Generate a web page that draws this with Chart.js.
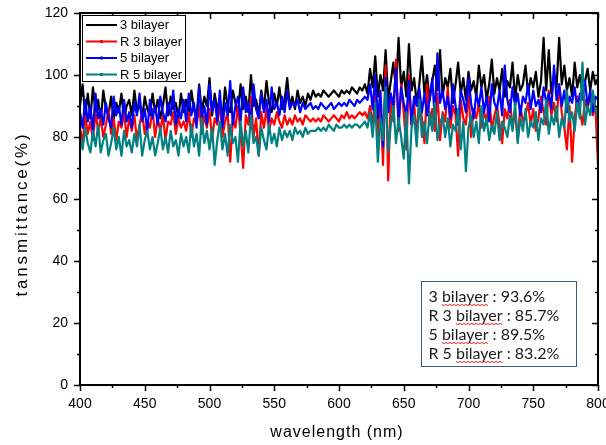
<!DOCTYPE html>
<html>
<head>
<meta charset="utf-8">
<script src="https://cdn.jsdelivr.net/npm/chart.js@4.4.1/dist/chart.umd.min.js"></script>
<style>
  html, body { margin: 0; padding: 0; background: #fff; }
  #wrap { width: 606px; height: 445px; }
</style>
</head>
<body>
<div id="wrap"><canvas id="transChart" width="606" height="445"></canvas></div>
<script>
// wavelength grid (nm)
const WL_START = 400;
const WL_STEP = 2;

// transmittance (%), 400 -> 800 nm
const bilayer3 = [
  90, 97, 87, 94, 86, 96, 88, 92, 85, 95,
  89, 87, 93, 86, 91, 88, 94, 86, 90, 92,
  87, 95, 88, 91, 86, 93, 89, 87, 94, 88,
  92, 86, 90, 96, 87, 93, 89, 91, 86, 94,
  88,
  92, 87, 95, 89, 86, 97, 88, 93, 90, 99,
  87, 94, 89, 92, 86, 96, 90, 88, 95, 91,
  87, 97, 89, 93, 88, 100, 90, 92, 87, 95,
  89, 98, 91, 88, 94, 90, 96, 89, 92, 99,
  90, 93, 89, 95, 91, 93, 90, 94, 92, 95,
  93, 94, 93, 95, 94, 93, 94, 95, 94, 93,
  95, 94, 95, 94, 96, 95, 94, 96, 95, 97,
  94, 102, 96, 106, 93, 100, 95, 108, 92, 98,
  104, 95, 112, 96, 101, 93, 110, 95, 99, 91,
  97, 106, 94, 100, 92, 98, 103, 95, 108, 93,
  99, 96, 102, 91, 97, 104, 94, 99, 92, 101,
  95, 98, 93, 103, 96, 100, 92, 97, 105, 94,
  99, 95, 102, 93, 98, 96, 104, 92, 100, 95,
  97, 103, 94, 99, 96, 101, 93, 98, 112, 95,
  108, 94, 100, 96, 112, 97, 103, 95, 99, 93,
  104, 96, 100, 94, 98, 102, 95, 101, 97, 99
];
const bilayer3R = [
  83, 78, 87, 81, 85, 79, 88, 82, 86, 80,
  84, 89, 81, 86, 79, 85, 83, 88, 80, 86,
  82, 87, 79, 84, 88, 81, 85, 83, 89, 80,
  86, 82, 87, 79, 85, 84, 88, 81, 86, 83,
  85,
  82, 88, 80, 86, 84, 90, 81, 87, 83, 89,
  79, 86, 84, 91, 80, 85, 88, 72, 86, 83,
  90, 81, 70, 87, 84, 93, 80, 86, 74, 88,
  83, 89, 82, 86, 84, 88, 85, 83, 87, 84,
  86, 84, 87, 85, 86, 84, 87, 86, 85, 86,
  85, 86, 85, 87, 86, 85, 86, 87, 86, 85,
  87, 86, 88, 86, 87, 86, 87, 88, 87, 88,
  86, 90, 83, 96, 80, 92, 71, 103, 66, 94,
  85, 105, 82, 97, 88, 76, 100, 84, 91, 80,
  93, 86, 78, 97, 84, 89, 82, 94, 79, 88,
  85, 96, 83, 90, 87, 74, 92, 86, 84, 95,
  80, 89, 86, 91, 83, 88, 85, 93, 82, 87,
  90, 84, 78, 89, 86, 92, 83, 88, 79, 90,
  85, 87, 91, 84, 89, 82, 86, 93, 88, 84,
  95, 87, 91, 85, 97, 88, 83, 76, 90, 72,
  86, 93, 88, 84, 92, 89, 94, 87, 90, 71
];
const bilayer5 = [
  88, 83, 92, 85, 90, 82, 94, 86, 89, 84,
  91, 86, 83, 93, 87, 90, 84, 92, 85, 88,
  83, 91, 87, 94, 85, 89, 82, 92, 86, 90,
  84, 93, 88, 85, 91, 87, 95, 84, 89, 86,
  92,
  85, 94, 87, 91, 83, 96, 86, 90, 84, 97,
  88, 92, 85, 95, 83, 91, 87, 98, 84, 90,
  93, 85, 96, 88, 91, 84, 97, 89, 86, 94,
  88, 92, 85, 96, 89, 91, 87, 93, 88, 95,
  89, 91, 90, 92, 88, 91, 89, 90, 91, 89,
  90, 89, 91, 90, 89, 90, 91, 89, 90, 91,
  90, 91, 90, 92, 91, 90, 92, 91, 92, 93,
  92, 97, 89, 100, 86, 95, 77, 99, 88, 94,
  90, 102, 85, 96, 91, 87, 98, 84, 93, 90,
  96, 88, 94, 87, 92, 99, 86, 107, 91, 95,
  89, 93, 86, 97, 90, 84, 95, 92, 88, 99,
  91, 86, 94, 90, 96, 88, 93, 85, 97, 91,
  89, 95, 87, 103, 92, 88, 96, 90, 94, 87,
  93, 91, 97, 89, 95, 90, 92, 88, 96, 91,
  94, 89, 103, 92, 97, 90, 95, 88, 93, 91,
  96, 89, 94, 92, 98, 90, 95, 88, 93, 92
];
const bilayer5R = [
  80, 76, 83, 78, 75, 82, 77, 84, 75, 79,
  81, 74, 78, 83, 76, 80, 74, 82, 77, 79,
  75, 81, 77, 84, 74, 79, 82, 76, 80, 74,
  78, 83, 76, 80, 75, 82, 77, 79, 74, 81,
  77,
  80, 75, 84, 77, 81, 74, 86, 78, 82, 76,
  83, 71, 79, 85, 76, 81, 74, 84, 78, 80,
  72, 85, 77, 82, 75, 87, 78, 80, 74, 83,
  79, 76, 84, 78, 81, 77, 83, 79, 82, 80,
  82, 79, 83, 81, 82, 80, 83, 81, 82, 82,
  82, 83, 82, 83, 82, 84, 83, 82, 84, 83,
  83, 84, 83, 84, 83, 84, 84, 83, 84, 85,
  83, 88, 80, 91, 72, 86, 79, 96, 75, 84,
  90, 78, 86, 80, 73, 88, 65, 83, 87, 77,
  92, 80, 85, 78, 88, 82, 91, 79, 84, 87,
  80, 86, 77, 84, 82, 89, 76, 85, 69, 83,
  87, 80, 85, 78, 90, 82, 86, 79, 84, 81,
  88, 79, 85, 83, 80, 87, 82, 91, 78, 86,
  82, 89, 80, 85, 83, 88, 79, 86, 84, 92,
  81, 87, 84, 90, 80, 86, 83, 95, 85, 88,
  82, 91, 86, 104, 84, 90, 87, 95, 89, 86
];

const seriesNames = ['3 bilayer', 'R 3 bilayer', '5 bilayer', 'R 5 bilayer'];
const seriesColors = ['#000000', '#ff0000', '#0000ff', '#008080'];
const averageLines = ['3 bilayer : 93.6%', 'R 3 bilayer : 85.7%', '5 bilayer : 89.5%', 'R 5 bilayer : 83.2%'];

const xTicks = [400, 450, 500, 550, 600, 650, 700, 750, 800];
const xMinorTicks = [425, 475, 525, 575, 625, 675, 725, 775];
const yTicks = [0, 20, 40, 60, 80, 100, 120];
const yMinorTicks = [10, 30, 50, 70, 90, 110];

const wavelengths = bilayer3.map((_, i) => WL_START + i * WL_STEP);
const toPoints = arr => arr.map((v, i) => ({ x: wavelengths[i], y: v }));

const FONT = '"Liberation Sans", Arial, sans-serif';

// frame, mirrored ticks, legend box and the text box
const decorPlugin = {
    id: 'decor',
    afterDatasetsDraw(chart) {
        const { ctx, chartArea: a, scales: { x, y } } = chart;
        ctx.save();
        ctx.strokeStyle = '#000';
        ctx.lineWidth = 1.5;
        ctx.beginPath();
        xTicks.forEach(v => {
            const px = Math.round(x.getPixelForValue(v)) + 0.5;
            ctx.moveTo(px, a.bottom); ctx.lineTo(px, a.bottom + 6);
            ctx.moveTo(px, a.top); ctx.lineTo(px, a.top + 6);
        });
        xMinorTicks.forEach(v => {
            const px = Math.round(x.getPixelForValue(v)) + 0.5;
            ctx.moveTo(px, a.bottom); ctx.lineTo(px, a.bottom + 3);
            ctx.moveTo(px, a.top); ctx.lineTo(px, a.top + 3);
        });
        yTicks.forEach(v => {
            const py = Math.round(y.getPixelForValue(v)) + 0.5;
            ctx.moveTo(a.left - 6, py); ctx.lineTo(a.left, py);
            ctx.moveTo(a.right, py); ctx.lineTo(a.right - 6, py);
        });
        yMinorTicks.forEach(v => {
            const py = Math.round(y.getPixelForValue(v)) + 0.5;
            ctx.moveTo(a.left - 3, py); ctx.lineTo(a.left, py);
            ctx.moveTo(a.right, py); ctx.lineTo(a.right - 3, py);
        });
        ctx.stroke();
        ctx.lineWidth = 2;
        ctx.strokeRect(a.left, a.top, a.right - a.left, a.bottom - a.top);
        ctx.restore();
    },
    afterDraw(chart) {
        const { ctx, chartArea: a } = chart;
        ctx.save();

        // axis titles
        ctx.fillStyle = '#000';
        ctx.font = '16px ' + FONT;
        ctx.textAlign = 'center';
        ctx.textBaseline = 'middle';
        ctx.letterSpacing = '1px';
        ctx.fillText('wavelength (nm)', (a.left + a.right) / 2 - 2, 433);
        ctx.save();
        ctx.translate(22, 214);
        ctx.rotate(-Math.PI / 2);
        ctx.font = '17px ' + FONT;
        ctx.letterSpacing = '2.8px';
        ctx.fillText('tansmittance(%)', 0, 0);
        ctx.restore();
        ctx.letterSpacing = '0px';

        // legend
        const lx = a.left + 2, ly = a.top + 2;
        ctx.fillStyle = '#fff';
        ctx.fillRect(lx, ly, 103, 66);
        ctx.strokeStyle = '#000';
        ctx.lineWidth = 1;
        ctx.strokeRect(lx + 0.5, ly + 0.5, 103, 66);
        ctx.font = '13px ' + FONT;
        ctx.textAlign = 'left';
        ctx.textBaseline = 'middle';
        chart.data.datasets.slice().sort((p, q) => p.idx - q.idx).forEach((ds, i) => {
            const ry = ly + 10 + i * 16.5;
            ctx.strokeStyle = ds.borderColor;
            ctx.lineWidth = 2;
            ctx.beginPath();
            ctx.moveTo(lx + 4, ry); ctx.lineTo(lx + 35, ry);
            ctx.stroke();
            if (i > 0) {
                ctx.fillStyle = ds.borderColor;
                ctx.beginPath();
                ctx.arc(lx + 19.5, ry, 1.8, 0, Math.PI * 2);
                ctx.fill();
            }
            ctx.fillStyle = '#000';
            ctx.fillText(ds.label, lx + 38, ry + 0.5);
        });

        // averages box
        const bx = 421.5, by = 281.5, bw = 155, bh = 85;
        ctx.fillStyle = '#fff';
        ctx.fillRect(bx, by, bw, bh);
        ctx.strokeStyle = '#3d5a80';
        ctx.lineWidth = 1;
        ctx.strokeRect(bx, by, bw, bh);
        ctx.font = '16px Lato, "Open Sans", sans-serif';
        ctx.textBaseline = 'alphabetic';
        averageLines.forEach((t, i) => {
            const ty = by + 20 + i * 19;
            ctx.fillStyle = '#1a1a1a';
            ctx.fillText(t, bx + 7, ty);
            // spell-check squiggle under "bilayer"
            const start = t.indexOf('bilayer');
            const x0 = bx + 7 + ctx.measureText(t.slice(0, start)).width;
            const w = ctx.measureText('bilayer').width;
            ctx.strokeStyle = '#e02020';
            ctx.lineWidth = 1;
            ctx.beginPath();
            for (let k = 0; k <= w; k += 2) {
                const yy = ty + 3 + ((k / 2) % 2 ? 1 : 0);
                if (k === 0) ctx.moveTo(x0 + k, yy); else ctx.lineTo(x0 + k, yy);
            }
            ctx.stroke();
        });
        ctx.restore();
    }
};

const ctx = document.getElementById('transChart').getContext('2d');
new Chart(ctx, {
    type: 'line',
    data: {
        datasets: [
            { idx: 0, label: seriesNames[0], data: toPoints(bilayer3), borderColor: seriesColors[0], order: 4 },
            { idx: 1, label: seriesNames[1], data: toPoints(bilayer3R), borderColor: seriesColors[1], order: 3 },
            { idx: 2, label: seriesNames[2], data: toPoints(bilayer5), borderColor: seriesColors[2], order: 2 },
            { idx: 3, label: seriesNames[3], data: toPoints(bilayer5R), borderColor: seriesColors[3], order: 1 }
        ]
    },
    options: {
        responsive: false,
        animation: false,
        devicePixelRatio: 1,
        elements: {
            line: { borderWidth: 2.2, tension: 0, borderJoinStyle: 'round', fill: false },
            point: { radius: 0, hoverRadius: 0 }
        },
        layout: { padding: { top: 13, right: 8, left: 0, bottom: 0 } },
        plugins: {
            legend: { display: false },
            tooltip: { enabled: false }
        },
        scales: {
            x: {
                type: 'linear',
                min: 400,
                max: 800,
                grid: { display: false, drawTicks: false },
                border: { display: false },
                ticks: { color: '#000', font: { family: FONT, size: 14 }, padding: 11, maxRotation: 0, autoSkip: false },
                afterBuildTicks: s => { s.ticks = xTicks.map(v => ({ value: v })); },
                afterFit: s => { s.height = 60; s.paddingLeft = 0; s.paddingRight = 0; }
            },
            y: {
                min: 0,
                max: 120,
                grid: { display: false, drawTicks: false },
                border: { display: false },
                ticks: { color: '#000', font: { family: FONT, size: 14 }, padding: 12 },
                afterBuildTicks: s => { s.ticks = yTicks.map(v => ({ value: v })); },
                afterFit: s => { s.width = 80; s.paddingTop = 0; s.paddingBottom = 0; }
            }
        }
    },
    plugins: [decorPlugin]
});
</script>
</body>
</html>
